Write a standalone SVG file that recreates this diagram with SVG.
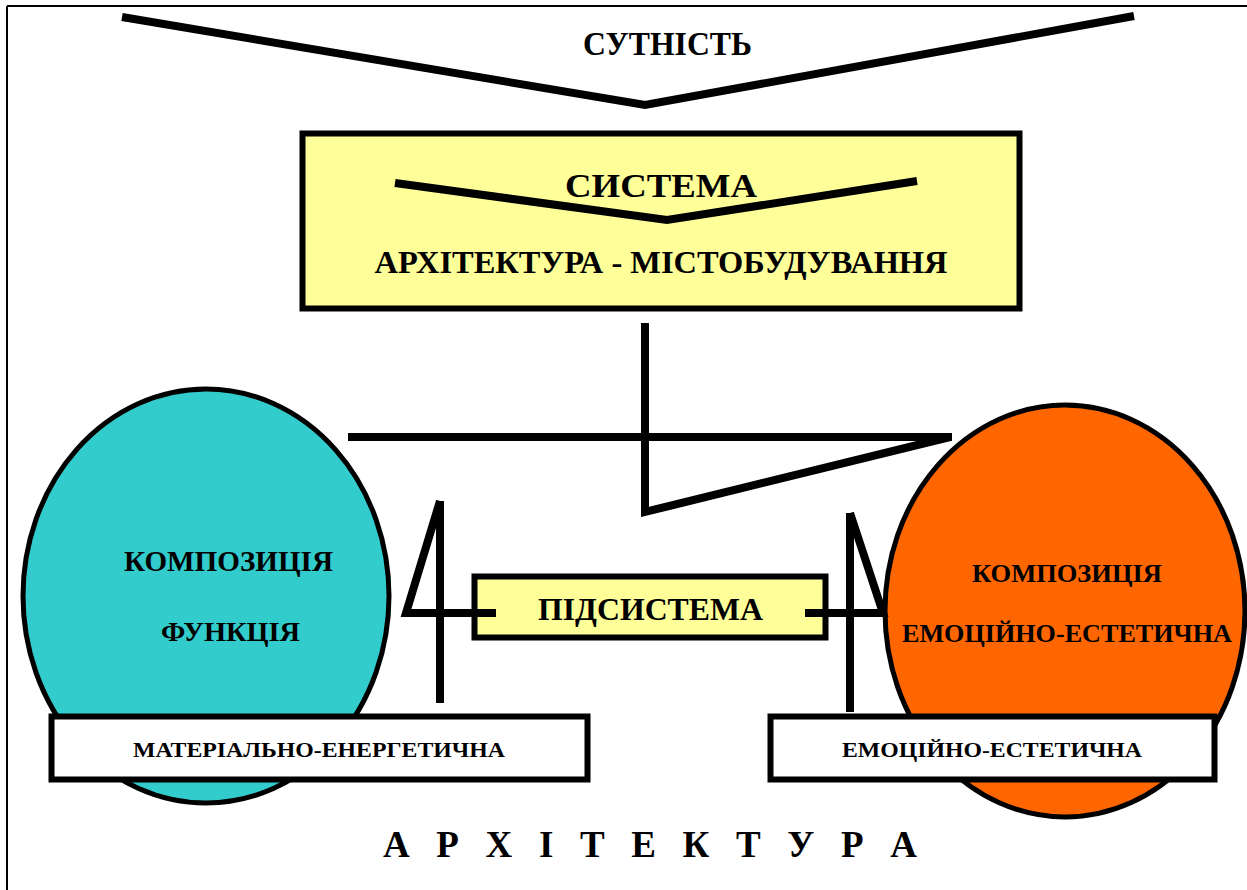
<svg xmlns="http://www.w3.org/2000/svg" width="1247" height="890" viewBox="0 0 1247 890">
<style>
.t{font-family:"Liberation Serif","Times New Roman",serif;font-weight:bold;fill:#000;text-anchor:middle}
.ln{stroke:#000;stroke-width:8;fill:none;stroke-linejoin:miter}
.bx{stroke:#000;stroke-width:6}
</style>
<rect width="1247" height="890" fill="#fff"/>
<g id="frame" stroke="#000" stroke-width="2" fill="none">
<line x1="7" y1="6" x2="1247" y2="6"/>
<line x1="7" y1="6" x2="7" y2="890"/>
</g>
<g id="essence">
<polyline class="ln" points="122,17 645,105 1134,16"/>
<text class="t" x="667.5" y="55" font-size="33" textLength="169" lengthAdjust="spacingAndGlyphs">СУТНІСТЬ</text>
</g>
<g id="system">
<rect class="bx" x="302.5" y="133.5" width="717" height="175" fill="#FFFF99" stroke-width="5"/>
<polyline class="ln" points="395,183 667,220 917,181"/>
<text class="t" x="661" y="197" font-size="34" textLength="192" lengthAdjust="spacingAndGlyphs">СИСТЕМА</text>
<text class="t" x="661" y="273" font-size="32" textLength="573" lengthAdjust="spacingAndGlyphs">АРХІТЕКТУРА - МІСТОБУДУВАННЯ</text>
</g>
<g id="left-ellipse">
<ellipse cx="206" cy="596" rx="183" ry="207" fill="#33CCCC" stroke="#000" stroke-width="5"/>
<text class="t" x="228.5" y="571" font-size="29" textLength="209" lengthAdjust="spacingAndGlyphs">КОМПОЗИЦІЯ</text>
<text class="t" x="230.5" y="641" font-size="28" textLength="139" lengthAdjust="spacingAndGlyphs">ФУНКЦІЯ</text>
</g>
<g id="right-ellipse">
<ellipse cx="1065" cy="611" rx="180" ry="206" fill="#FF6600" stroke="#000" stroke-width="5"/>
<text class="t" x="1067" y="582" font-size="26" textLength="190" lengthAdjust="spacingAndGlyphs">КОМПОЗИЦІЯ</text>
<text class="t" x="1067" y="642" font-size="26" textLength="330" lengthAdjust="spacingAndGlyphs">ЕМОЦІЙНО-ЕСТЕТИЧНА</text>
</g>
<g id="subsystem">
<rect class="bx" x="474.5" y="576.5" width="351" height="61" fill="#FFFF99" stroke-width="5"/>
<text class="t" x="650.5" y="620" font-size="31" textLength="225" lengthAdjust="spacingAndGlyphs">ПІДСИСТЕМА</text>
</g>
<g id="material-energy">
<rect class="bx" x="51.5" y="716.5" width="536" height="63" fill="#fff" stroke-width="7"/>
<text class="t" x="319" y="757" font-size="22" textLength="372" lengthAdjust="spacingAndGlyphs">МАТЕРІАЛЬНО-ЕНЕРГЕТИЧНА</text>
</g>
<g id="emotional-aesthetic">
<rect class="bx" x="770.5" y="716.5" width="444" height="63" fill="#fff" stroke-width="7"/>
<text class="t" x="992" y="757" font-size="22" textLength="300" lengthAdjust="spacingAndGlyphs">ЕМОЦІЙНО-ЕСТЕТИЧНА</text>
</g>
<g id="connectors">
<polyline class="ln" points="645,323 645,512 950,437"/>
<line class="ln" x1="348" y1="437" x2="952" y2="437"/>
<polyline class="ln" points="440,501 440,703"/>
<polyline class="ln" points="440,501 406,613 496,613"/>
<polyline class="ln" points="850,513 850,712"/>
<polyline class="ln" points="850,513 883,613 805,613"/>
</g>
<g id="title">
<text class="t" x="650" y="857" font-size="37" textLength="534" lengthAdjust="spacing">А Р Х І Т Е К Т У Р А</text>
</g>
</svg>
